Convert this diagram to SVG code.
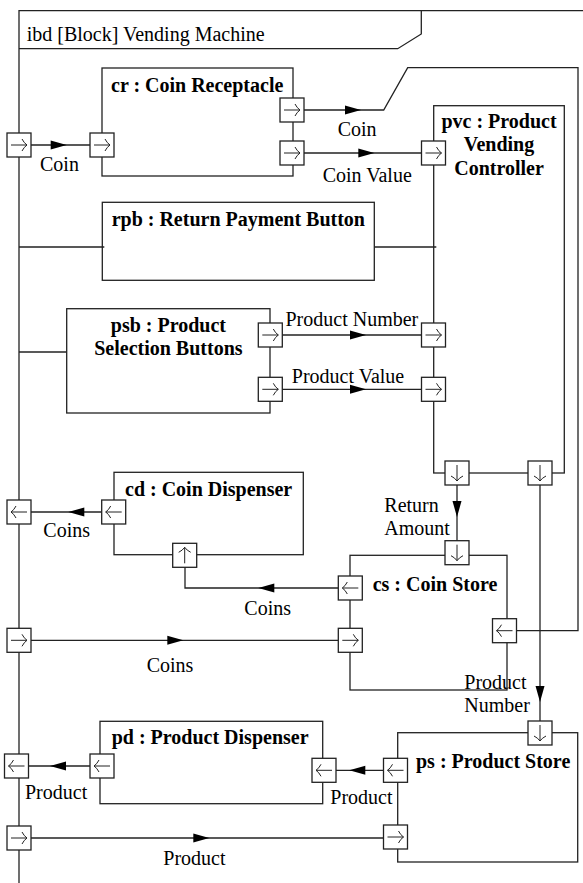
<svg xmlns="http://www.w3.org/2000/svg" xmlns:xlink="http://www.w3.org/1999/xlink" width="583" height="883" viewBox="0 0 583 883">
<style>
.ln{fill:none;stroke:#222;stroke-width:1.3}
.bx{fill:none;stroke:#222;stroke-width:1.3}
.t{font-family:"Liberation Serif","Times New Roman",serif;font-size:20px;fill:#000}
.b{font-family:"Liberation Serif","Times New Roman",serif;font-size:20px;font-weight:bold;fill:#000}
.m{text-anchor:middle}
.ah{fill:#000;stroke:none}
</style>
<defs>
<g id="port">
<rect x="-12" y="-12" width="24" height="24" fill="#fff" stroke="#222" stroke-width="1.3"/>
<path d="M-8,0 H8 M3,-6 Q5,-2 8,0 Q5,2 3,6" fill="none" stroke="#222" stroke-width="1"/>
</g>
<path id="arr" d="M0,0 L-16,-4.5 L-16,4.5 Z"/>
</defs>
<rect width="583" height="883" fill="#fff"/>

<g id="connectors">
<path class="ln" d="M31,145 H90"/>
<use href="#arr" class="ah" transform="translate(66.7,145)"/>
<path class="ln" d="M304,110 H383.7 L407.7,67.7 H578 V630.7 H516"/>
<use href="#arr" class="ah" transform="translate(361,110)"/>
<path class="ln" d="M304,153 H421.5"/>
<use href="#arr" class="ah" transform="translate(374.3,153)"/>
<path class="ln" d="M19,247 H104.3 M374.3,247 H436.3"/>
<path class="ln" d="M19,352 H66.7"/>
<path class="ln" d="M282,335 H421.5"/>
<use href="#arr" class="ah" transform="translate(366,335)"/>
<path class="ln" d="M282,389.3 H421.5"/>
<use href="#arr" class="ah" transform="translate(366,389.3)"/>
<path class="ln" d="M457,485 V541"/>
<use href="#arr" class="ah" transform="translate(457,517) rotate(90)"/>
<path class="ln" d="M540,485 V721"/>
<use href="#arr" class="ah" transform="translate(540,702) rotate(90)"/>
<path class="ln" d="M101.7,512 H31"/>
<use href="#arr" class="ah" transform="translate(68.3,512) rotate(180)"/>
<path class="ln" d="M338.5,588 H185 V567"/>
<use href="#arr" class="ah" transform="translate(258.3,588) rotate(180)"/>
<path class="ln" d="M31,640.3 H338.5"/>
<use href="#arr" class="ah" transform="translate(183.3,640.3)"/>
<path class="ln" d="M90,766 H28.5"/>
<use href="#arr" class="ah" transform="translate(50,766) rotate(180)"/>
<path class="ln" d="M383.5,770.3 H336"/>
<use href="#arr" class="ah" transform="translate(349.3,770.3) rotate(180)"/>
<path class="ln" d="M31,838 H383.5"/>
<use href="#arr" class="ah" transform="translate(209.3,838)"/>
<text class="t" x="40" y="170.5">Coin</text>
<text class="t" x="337.7" y="136">Coin</text>
<text class="t" x="322.7" y="181.7">Coin Value</text>
<text class="t" x="285.5" y="326">Product Number</text>
<text class="t" x="291.8" y="382.7">Product Value</text>
<text class="t" x="384.3" y="512">Return</text>
<text class="t" x="384.3" y="535.3">Amount</text>
<text class="t" x="43.3" y="537">Coins</text>
<text class="t" x="244.3" y="615.3">Coins</text>
<text class="t" x="146.7" y="671.5">Coins</text>
<text class="t" x="464.3" y="688.7">Product</text>
<text class="t" x="464.3" y="712">Number</text>
<text class="t" x="25" y="798.7">Product</text>
<text class="t" x="330.3" y="803.7">Product</text>
<text class="t" x="163.3" y="865.3">Product</text>
</g>

<g id="frame">
<path class="ln" d="M19,883 V10.7 H583"/>
<path class="ln" d="M19,48.7 H397.7 L421.3,34 V10.7"/>
<text class="t" x="26.7" y="40.7">ibd [Block] Vending Machine</text>
<use href="#port" transform="translate(19,145)"/>
<use href="#port" transform="translate(19,512) rotate(180)"/>
<use href="#port" transform="translate(19,640.3)"/>
<use href="#port" transform="translate(16.5,766) rotate(180)"/>
<use href="#port" transform="translate(19,838)"/>
</g>

<g id="cr">
<rect class="bx" x="102" y="68" width="191" height="108"/>
<text class="b" x="111" y="91.5">cr : Coin Receptacle</text>
<use href="#port" transform="translate(102,145)"/>
<use href="#port" transform="translate(292,110)"/>
<use href="#port" transform="translate(292,153)"/>
</g>

<g id="pvc">
<rect class="bx" x="433.7" y="105.7" width="130.6" height="367.3"/>
<text class="b m" x="499" y="128.3">pvc : Product</text>
<text class="b m" x="499" y="151">Vending</text>
<text class="b m" x="499" y="175">Controller</text>
<use href="#port" transform="translate(433.5,153)"/>
<use href="#port" transform="translate(433.5,335)"/>
<use href="#port" transform="translate(433.5,389.3)"/>
<use href="#port" transform="translate(457,473) rotate(90)"/>
<use href="#port" transform="translate(540,473) rotate(90)"/>
</g>

<g id="rpb">
<rect class="bx" x="102.3" y="202.3" width="272" height="78"/>
<text class="b m" x="238.3" y="226">rpb : Return Payment Button</text>
</g>

<g id="psb">
<rect class="bx" x="66.7" y="308.7" width="203.3" height="104.3"/>
<text class="b m" x="168.4" y="331.7">psb : Product</text>
<text class="b m" x="168.4" y="355">Selection Buttons</text>
<use href="#port" transform="translate(270.3,335)"/>
<use href="#port" transform="translate(270.3,389.3)"/>
</g>

<g id="cd">
<rect class="bx" x="114" y="472.3" width="189.3" height="82.4"/>
<text class="b" x="125" y="496">cd : Coin Dispenser</text>
<use href="#port" transform="translate(113.7,512) rotate(180)"/>
<use href="#port" transform="translate(184.7,555.3) rotate(-90)"/>
</g>

<g id="cs">
<rect class="bx" x="350" y="555.3" width="157" height="134.7"/>
<text class="b" x="372.7" y="591">cs : Coin Store</text>
<use href="#port" transform="translate(457,552.7) rotate(90)"/>
<use href="#port" transform="translate(350.3,588) rotate(180)"/>
<use href="#port" transform="translate(350.3,640.3)"/>
<use href="#port" transform="translate(504.5,630.7) rotate(180)"/>
</g>

<g id="pd">
<rect class="bx" x="100" y="721.3" width="222.7" height="82.4"/>
<text class="b" x="111.7" y="743.7">pd : Product Dispenser</text>
<use href="#port" transform="translate(102,766) rotate(180)"/>
<use href="#port" transform="translate(324,770.3) rotate(180)"/>
</g>

<g id="ps">
<rect class="bx" x="397.7" y="732.7" width="180" height="129.3"/>
<text class="b" x="416" y="768">ps : Product Store</text>
<use href="#port" transform="translate(540,733) rotate(90)"/>
<use href="#port" transform="translate(395.5,770.3) rotate(180)"/>
<use href="#port" transform="translate(395.5,837)"/>
</g>
</svg>
